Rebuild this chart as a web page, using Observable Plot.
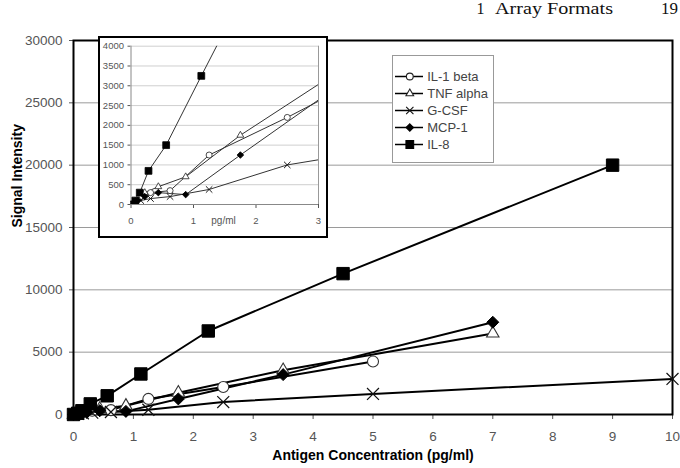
<!DOCTYPE html>
<html>
<head>
<meta charset="utf-8">
<script src="https://cdn.jsdelivr.net/npm/d3@7"></script>
<script src="https://cdn.jsdelivr.net/npm/@observablehq/plot@0.6"></script>
<style>
  body { margin: 0; background: #fff; }
  #wrap { position: relative; width: 680px; height: 468px; overflow: hidden; background: #fff; }
  #wrap > div { position: absolute; }
  #header { left: 0; top: 0; }
  #inset { left: 98px; top: 36px; width: 230px; height: 202px; box-sizing: border-box; border: 2px solid #000; background: #fff; }
  #legend { left: 392px; top: 55px; width: 102px; height: 108px; box-sizing: border-box; border: 1px solid #999; background: #fff; }
  svg { display: block; }
</style>
</head>
<body>
<div id="wrap">
  <div id="main"></div>
  <div id="inset"></div>
  <div id="legend"></div>
  <div id="header">
    <svg width="680" height="20" font-family="'Liberation Serif', 'DejaVu Serif', serif" font-size="16" fill="#111">
      <text x="476.5" y="14">1</text>
      <text x="495" y="14" textLength="118" lengthAdjust="spacingAndGlyphs">Array Formats</text>
      <text x="661" y="14" textLength="17" lengthAdjust="spacingAndGlyphs">19</text>
    </svg>
  </div>
</div>
<script>
// Cytokine names, in legend order
const series = ["IL-1 beta", "TNF alpha", "G-CSF", "MCP-1", "IL-8"];

// Antigen concentrations (pg/ml) and measured signal intensities per cytokine
const il1Conc   = [0, 0.078, 0.156, 0.3125, 0.625, 1.25, 2.5, 5];
const il1Signal = [0, 100, 200, 300, 350, 1250, 2200, 4250];

const tnfConc   = [0, 0.055, 0.11, 0.22, 0.4375, 0.875, 1.75, 3.5, 7];
const tnfSignal = [0, 50, 150, 300, 450, 700, 1750, 3550, 6500];

const gcsfConc   = [0, 0.078, 0.156, 0.3125, 0.625, 1.25, 2.5, 5, 10];
const gcsfSignal = [0, 50, 100, 150, 200, 380, 1000, 1650, 2850];

const mcpConc   = [0, 0.055, 0.11, 0.22, 0.4375, 0.875, 1.75, 3.5, 7];
const mcpSignal = [0, 30, 100, 200, 300, 250, 1250, 3200, 7400];

const il8Conc   = [0, 0.07, 0.14, 0.28, 0.5625, 1.125, 2.25, 4.5, 9];
const il8Signal = [0, 100, 300, 850, 1500, 3250, 6700, 11300, 20000];

// Axis ticks
const xTicks = [0, 1, 2, 3, 4, 5, 6, 7, 8, 9, 10];
const yTicks = [0, 5000, 10000, 15000, 20000, 25000, 30000];
const insetXTicks = [0, 1, 2, 3];
const insetYTicks = [0, 500, 1000, 1500, 2000, 2500, 3000, 3500, 4000];

const rows = (name, xs, ys) => xs.map((c, i) => ({series: name, conc: c, signal: ys[i]}));
const data = [
  ...rows("IL-1 beta", il1Conc, il1Signal),
  ...rows("TNF alpha", tnfConc, tnfSignal),
  ...rows("G-CSF", gcsfConc, gcsfSignal),
  ...rows("MCP-1", mcpConc, mcpSignal),
  ...rows("IL-8", il8Conc, il8Signal)
];

// Marker style per cytokine; sizes are for the main chart
const markerStyle = {
  "IL-1 beta": {symbol: "circle",   r: 5.5, fill: "white", stroke: "#333", strokeWidth: 1.1},
  "TNF alpha": {symbol: "triangle", r: 4.6, fill: "white", stroke: "#333", strokeWidth: 1.1},
  "G-CSF":     {symbol: "times",    r: 5.5, fill: "none",  stroke: "#111", strokeWidth: 1.2},
  "MCP-1":     {symbol: "diamond2", r: 5.4, fill: "black", stroke: "black", strokeWidth: 1},
  "IL-8":      {symbol: "square",   r: 7,   fill: "black", stroke: "black", strokeWidth: 1}
};

function dotMarks(scale, extra = {}) {
  return series.map(name => {
    const s = markerStyle[name];
    return Plot.dot(data.filter(d => d.series === name), {
      x: "conc", y: "signal",
      symbol: s.symbol, r: s.r * scale,
      fill: s.fill, stroke: s.stroke, strokeWidth: s.strokeWidth * Math.max(scale, 0.8),
      ...extra
    });
  });
}

const font = "'Liberation Sans', Arial, sans-serif";

// Main chart
const main = Plot.plot({
  width: 680,
  height: 468,
  marginLeft: 73,
  marginRight: 8,
  marginTop: 40,
  marginBottom: 54,
  style: {fontFamily: font, fontSize: "13.5px", color: "#555", background: "white"},
  x: {domain: [0, 10], ticks: xTicks, tickSize: 5, tickPadding: 12, tickFormat: d => String(d), label: null},
  y: {domain: [0, 30000], ticks: yTicks, tickSize: 4, tickPadding: 7, tickFormat: d => String(d), label: null},
  marks: [
    Plot.ruleY(yTicks.filter(d => d > 0), {stroke: "#9a9a9a", strokeWidth: 1}),
    Plot.frame({stroke: "black", strokeWidth: 2}),
    Plot.line(data, {x: "conc", y: "signal", z: "series", stroke: "black", strokeWidth: 2}),
    ...dotMarks(1),
    Plot.text(["Antigen Concentration (pg/ml)"], {
      text: d => d, frameAnchor: "bottom", dy: 45,
      fontWeight: "bold", fontSize: 14, fill: "black"
    }),
    Plot.text(["Signal Intensity"], {
      text: d => d, frameAnchor: "left", dx: -56, rotate: -90,
      fontWeight: "bold", fontSize: 14, fill: "black"
    })
  ]
});
document.getElementById("main").append(main);

// Inset: low-concentration detail
const inset = Plot.plot({
  width: 226,
  height: 198,
  marginLeft: 30.5,
  marginRight: 8,
  marginTop: 7.7,
  marginBottom: 32,
  style: {fontFamily: font, fontSize: "9.5px", color: "#555", background: "white"},
  x: {domain: [0, 3], ticks: insetXTicks, tickSize: 4, tickPadding: 9, tickFormat: d => String(d), label: null},
  y: {domain: [0, 4000], ticks: insetYTicks, tickSize: 3, tickPadding: 4, tickFormat: d => String(d), label: null},
  marks: [
    Plot.ruleY(insetYTicks.filter(d => d > 0), {stroke: "#cfcfcf", strokeWidth: 1}),
    Plot.ruleX([3], {stroke: "#999", strokeWidth: 1}),
    Plot.ruleX([0], {stroke: "#888", strokeWidth: 1}),
    Plot.ruleY([0], {stroke: "#888", strokeWidth: 1}),
    Plot.line(data, {x: "conc", y: "signal", z: "series", stroke: "#333", strokeWidth: 1, clip: true}),
    ...dotMarks(0.55, {clip: true}),
    Plot.text(["pg/ml"], {text: d => d, x: 1.48, frameAnchor: "bottom", dy: 19, fontSize: 10, fill: "#555"})
  ]
});
document.getElementById("inset").append(inset);

// Legend
const legendScale = 0.62;
const legend = Plot.plot({
  width: 100,
  height: 106,
  margin: 0,
  style: {fontFamily: font, fontSize: "13px", background: "white"},
  x: {domain: [0, 100], range: [0, 100], axis: null},
  y: {type: "point", domain: series, range: [10.7, 97.3], axis: null},
  marks: [
    Plot.ruleY(series, {y: d => d, x1: 2, x2: 30, stroke: "black", strokeWidth: 1.5}),
    ...series.map(name => {
      const s = markerStyle[name];
      return Plot.dot([name], {
        x: 16.3, y: d => d, symbol: s.symbol, r: s.r * legendScale,
        fill: s.fill, stroke: s.stroke === "#333" ? "#222" : s.stroke, strokeWidth: 1.1
      });
    }),
    Plot.text(series, {x: 33.7, y: d => d, text: d => d, textAnchor: "start", fill: "#444"})
  ]
});
document.getElementById("legend").append(legend);
</script>
</body>
</html>
